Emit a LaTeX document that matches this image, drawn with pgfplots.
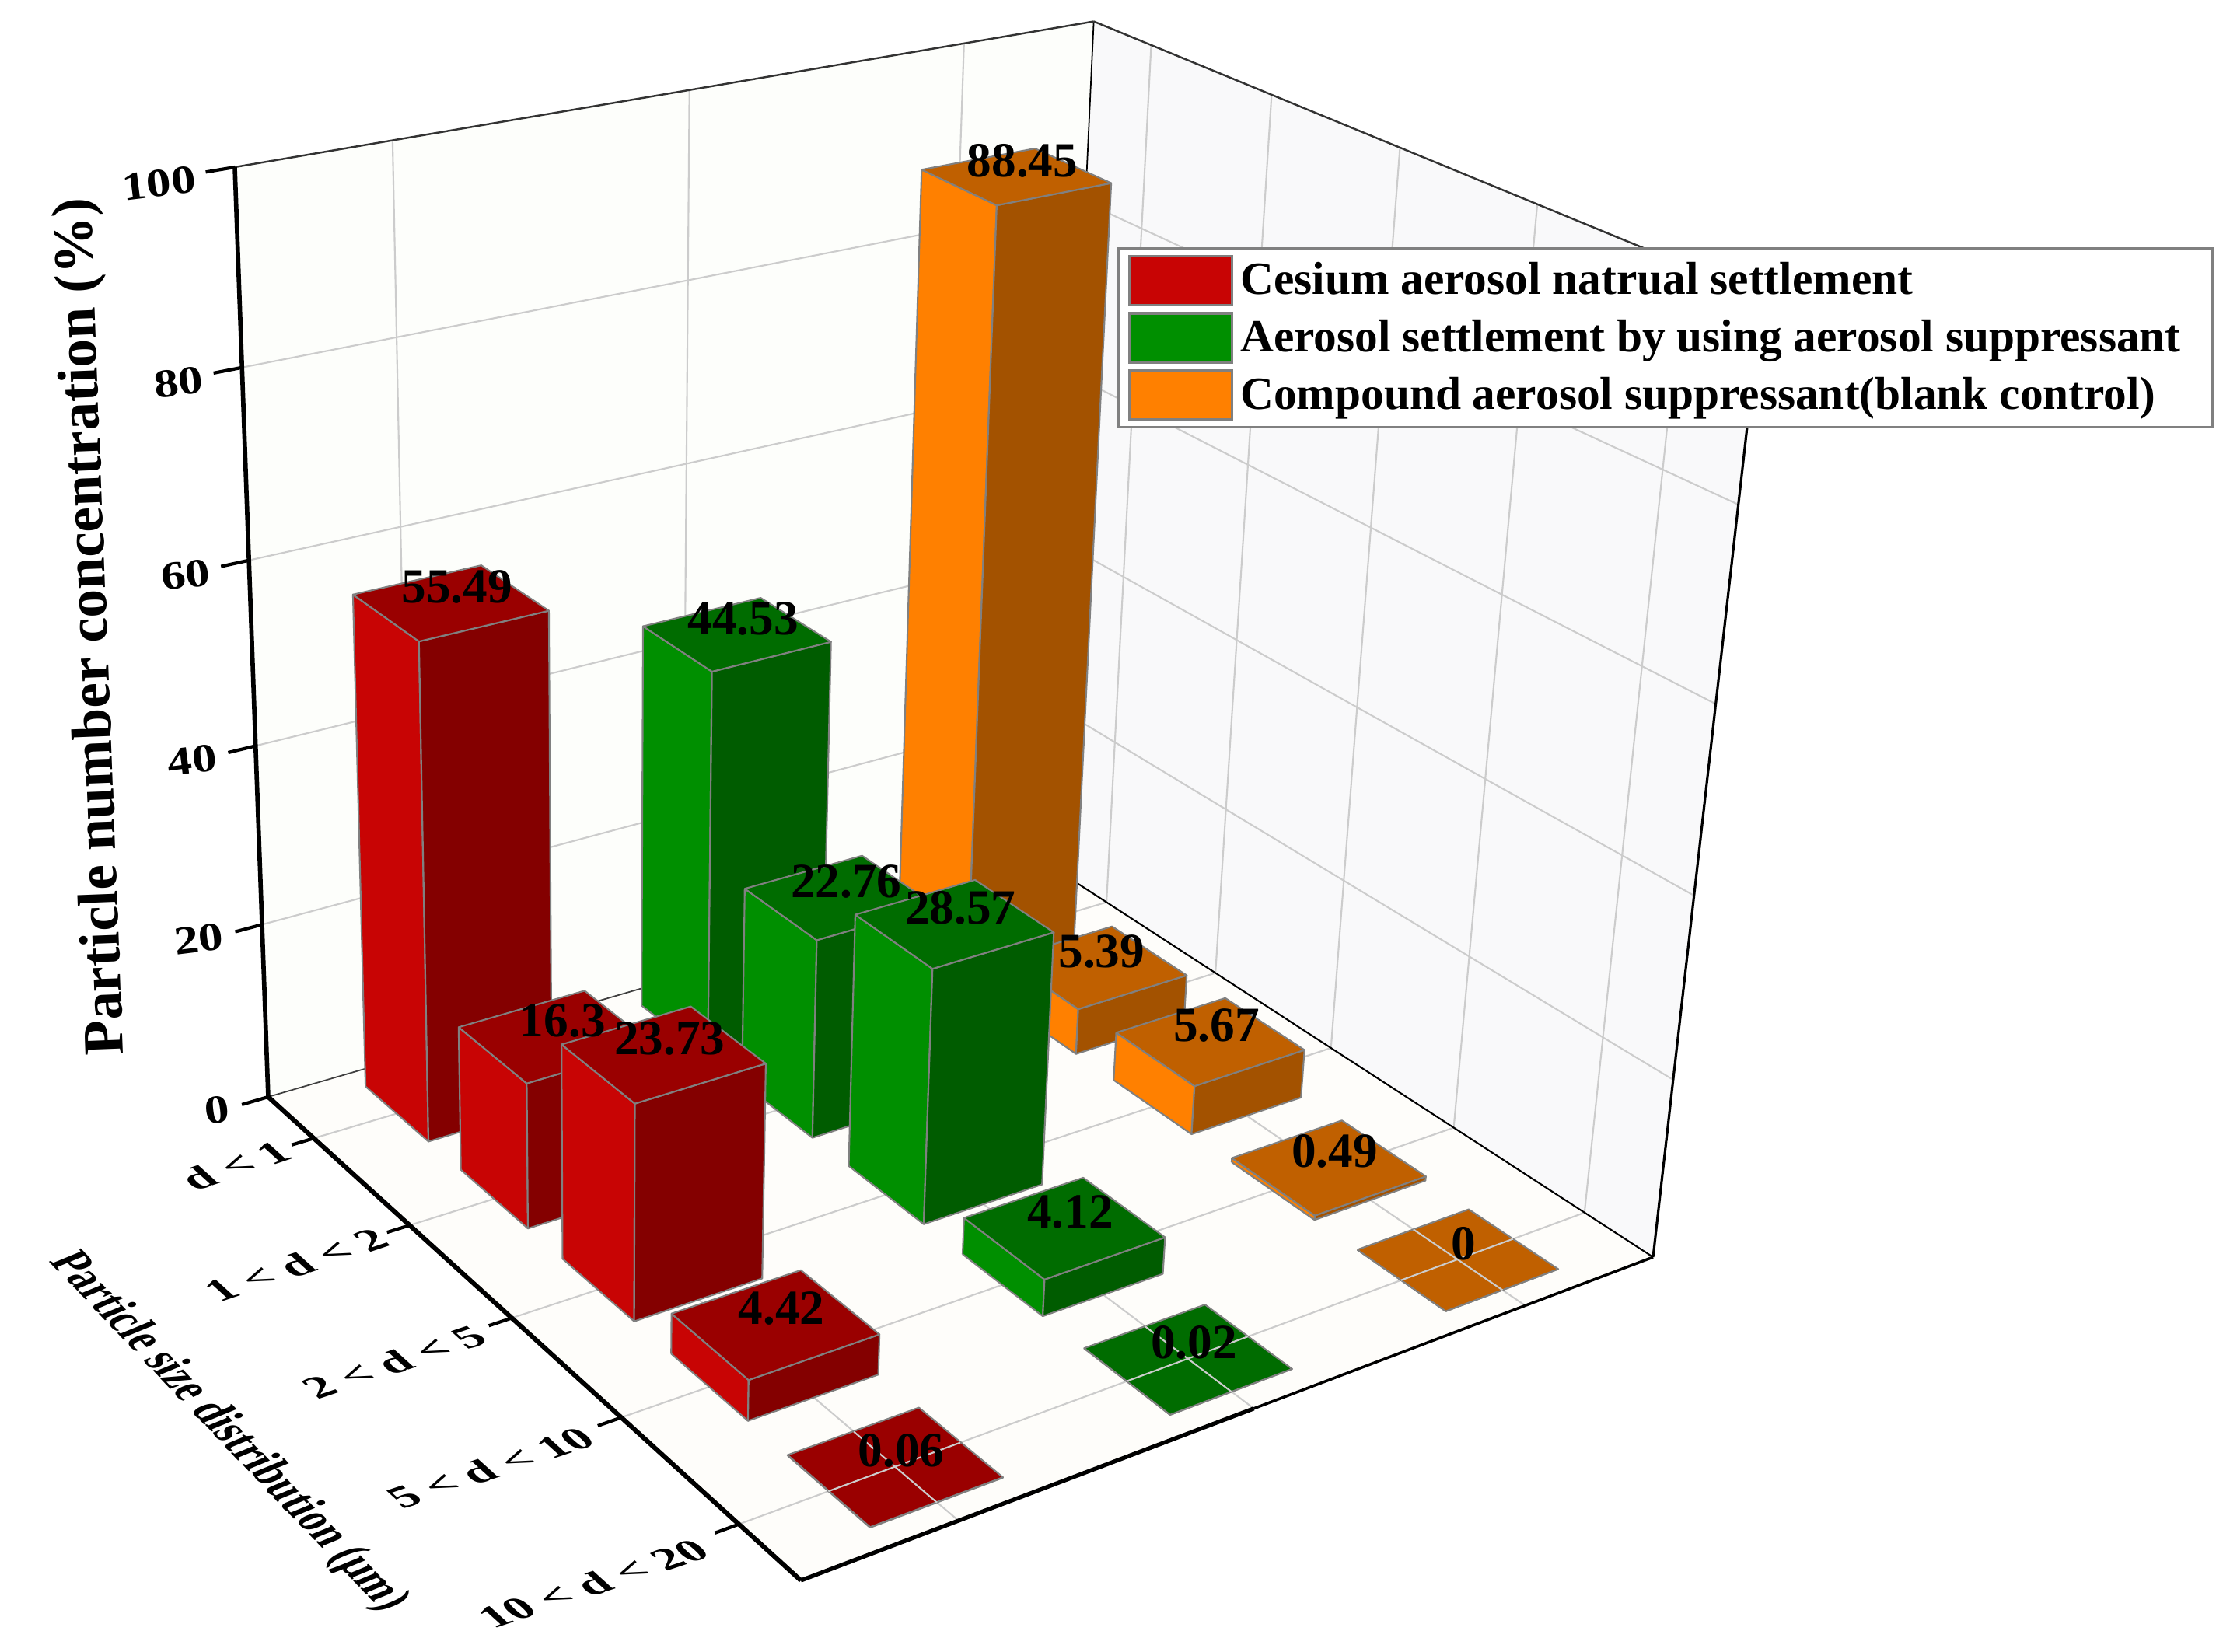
\documentclass[border=0pt]{standalone}
\usepackage{fontspec}
\setmainfont{Liberation Serif}
\usepackage{pgfplots}
\pgfplotsset{compat=1.18}
\definecolor{redF}{HTML}{C80404}\definecolor{redS}{HTML}{840000}\definecolor{redT}{HTML}{9A0000}
\definecolor{grnF}{HTML}{008F00}\definecolor{grnS}{HTML}{005C00}\definecolor{grnT}{HTML}{006C00}
\definecolor{orgF}{HTML}{FF8000}\definecolor{orgS}{HTML}{A35200}\definecolor{orgT}{HTML}{C06000}
\definecolor{edge}{HTML}{808080}\definecolor{gridc}{HTML}{CCCCCC}
\definecolor{floorc}{HTML}{FEFDFA}\definecolor{wallL}{HTML}{FDFEFB}\definecolor{wallR}{HTML}{F9F9FA}
\newcommand{\seg}[7]{\addplot[forget plot,no markers,#7] table[row sep=\\,x expr={PX(\thisrow{p},\thisrow{q},\thisrow{r})},y expr={PY(\thisrow{p},\thisrow{q},\thisrow{r})}]{p q r\\#1 #2 #3\\#4 #5 #6\\};}
\newcommand{\wall}[2]{\addplot[forget plot,no markers,draw=none,fill=#1] table[row sep=\\,x expr={PX(\thisrow{p},\thisrow{q},\thisrow{r})},y expr={PY(\thisrow{p},\thisrow{q},\thisrow{r})}]{p q r\\#2};}
% one bar: u centre, v centre, value (percent), colour family
\newcommand{\barface}[5]{\addplot[forget plot,no markers,fill=#4,draw=edge,line width=0.6pt,line join=round] table[row sep=\\,x expr={PX(#1+\thisrow{a}*0.0667,#2+\thisrow{b}*0.072,\thisrow{c}*#3/100)},y expr={PY(#1+\thisrow{a}*0.0667,#2+\thisrow{b}*0.072,\thisrow{c}*#3/100)}]{a b c\\#5};}
\newcommand{\prism}[4]{%
 \barface{#1}{#2}{#3}{#4F}{-1 -1 0\\1 -1 0\\1 -1 1\\-1 -1 1\\-1 -1 0\\}%
 \barface{#1}{#2}{#3}{#4S}{1 -1 0\\1 1 0\\1 1 1\\1 -1 1\\1 -1 0\\}%
 \barface{#1}{#2}{#3}{#4T}{-1 -1 1\\1 -1 1\\1 1 1\\-1 1 1\\-1 -1 1\\}}
\newcommand{\barlabel}[3]{\addplot[forget plot,only marks,mark=none,nodes near coords={#3},nodes near coords style={anchor=center,xshift=0.08cm,yshift=0.2cm,text=black,inner sep=0pt,font=\fontsize{18}{20}\selectfont\bfseries}] table[row sep=\\,x expr={PX(#1,#2,\thisrow{c}/100)},y expr={PY(#1,#2,\thisrow{c}/100)}]{c\\#3\\};}
\newcommand{\vbar}[4]{\prism{#1}{#2}{#3}{#4}\barlabel{#1}{#2}{#3}}
\newcommand{\flatbar}[4]{\prism{#1}{#2}{#3}{#4}%
 \seg{#1}{#2-0.072}{0}{#1}{#2+0.072}{0}{gridc,line width=0.6pt}%
 \seg{#1-0.0667}{#2}{0}{#1+0.0667}{#2}{0}{gridc,line width=0.6pt}%
 \barlabel{#1}{#2}{#3}}
\newcommand{\ztick}[1]{%
 \seg{0}{0}{#1/100}{0}{-0.03}{#1/100}{black,line width=1.2pt}%
 \addplot[forget plot,only marks,mark=none,nodes near coords={#1},nodes near coords style={anchor=east,rotate=7,xscale=1.06,yscale=0.86,xshift=-0.48cm,yshift=-0.1cm,text=black,inner sep=0pt,font=\fontsize{17}{19}\selectfont\bfseries}] table[row sep=\\,x expr={PX(0,0,\thisrow{c}/100)},y expr={PY(0,0,\thisrow{c}/100)}]{c\\#1\\};}
\tikzset{floortext/.style={anchor=center,inner sep=0pt,cm={1.07,0.358,-0.666,0.603,(0,0)},font=\fontsize{16}{18}\selectfont\bfseries}}
\begin{document}
\begin{tikzpicture}[declare function={
 PX(\p,\q,\r)=(345+523.16*\p+1164.59*\q-70.18*\r)/(1-0.15713*\p+0.11327*\q-0.09*\r);
 PY(\p,\q,\r)=(1411+302.56*\p-167.48*\q-1215.35*\r)/(1-0.15713*\p+0.11327*\q-0.09*\r);}]
\useasboundingbox (0,0) rectangle (28.59cm,21.25cm);
\begin{axis}[
 scale only axis,width=28.59cm,height=21.25cm,at={(0,0)},anchor=south west,
 xmin=0,xmax=2859,ymin=0,ymax=2125,y dir=reverse,hide axis,clip=false,
 legend style={at={(axis cs:1437,318)},anchor=north west,draw=edge,line width=1pt,fill=white,
   inner xsep=0.12cm,inner ysep=0.08cm,row sep=0.07cm,
   font=\fontsize{16.9}{18}\selectfont\bfseries,
   nodes={inner sep=0pt}},
 legend cell align=left,
 legend image code/.code={\draw[#1] (0cm,-0.315cm) rectangle (1.32cm,0.315cm);},
]
\addlegendimage{fill=redF,draw=edge,line width=1pt}\addlegendentry{\hspace*{0.09cm}Cesium aerosol natrual settlement}
\addlegendimage{fill=grnF,draw=edge,line width=1pt}\addlegendentry{\hspace*{0.09cm}Aerosol settlement by using aerosol suppressant\hspace*{0.29cm}}
\addlegendimage{fill=orgF,draw=edge,line width=1pt}\addlegendentry{\hspace*{0.09cm}Compound aerosol suppressant(blank control)}
% walls and floor
\wall{floorc}{0 0 0\\1 0 0\\1 1 0\\0 1 0\\0 0 0\\}
\wall{wallL}{0 0 0\\0 1 0\\0 1 1\\0 0 1\\0 0 0\\}
\wall{wallR}{0 1 0\\1 1 0\\1 1 1\\0 1 1\\0 1 0\\}
% grid
\seg{0}{0}{0.2}{0}{1}{0.2}{gridc,line width=0.6pt}\seg{0}{1}{0.2}{1}{1}{0.2}{gridc,line width=0.6pt}
\seg{0}{0}{0.4}{0}{1}{0.4}{gridc,line width=0.6pt}\seg{0}{1}{0.4}{1}{1}{0.4}{gridc,line width=0.6pt}
\seg{0}{0}{0.6}{0}{1}{0.6}{gridc,line width=0.6pt}\seg{0}{1}{0.6}{1}{1}{0.6}{gridc,line width=0.6pt}
\seg{0}{0}{0.8}{0}{1}{0.8}{gridc,line width=0.6pt}\seg{0}{1}{0.8}{1}{1}{0.8}{gridc,line width=0.6pt}
\seg{0}{0.1667}{0}{0}{0.1667}{1}{gridc,line width=0.6pt}\seg{0}{0.5}{0}{0}{0.5}{1}{gridc,line width=0.6pt}\seg{0}{0.8333}{0}{0}{0.8333}{1}{gridc,line width=0.6pt}
\seg{0.1}{1}{0}{0.1}{1}{1}{gridc,line width=0.6pt}\seg{0.3}{1}{0}{0.3}{1}{1}{gridc,line width=0.6pt}\seg{0.5}{1}{0}{0.5}{1}{1}{gridc,line width=0.6pt}\seg{0.7}{1}{0}{0.7}{1}{1}{gridc,line width=0.6pt}\seg{0.9}{1}{0}{0.9}{1}{1}{gridc,line width=0.6pt}
\seg{0.1}{0}{0}{0.1}{1}{0}{gridc,line width=0.6pt}\seg{0.3}{0}{0}{0.3}{1}{0}{gridc,line width=0.6pt}\seg{0.5}{0}{0}{0.5}{1}{0}{gridc,line width=0.6pt}\seg{0.7}{0}{0}{0.7}{1}{0}{gridc,line width=0.6pt}\seg{0.9}{0}{0}{0.9}{1}{0}{gridc,line width=0.6pt}
\seg{0}{0.1667}{0}{1}{0.1667}{0}{gridc,line width=0.6pt}\seg{0}{0.5}{0}{1}{0.5}{0}{gridc,line width=0.6pt}\seg{0}{0.8333}{0}{1}{0.8333}{0}{gridc,line width=0.6pt}
% frame
\seg{0}{0}{0}{0}{1}{0}{black!75,line width=0.5pt}
\seg{0}{1}{0}{1}{1}{0}{black,line width=0.6pt}
\seg{0}{1}{0}{0}{1}{1}{black,line width=0.5pt}
\seg{1}{1}{0}{1}{1}{1}{black,line width=0.9pt}
\seg{0}{0}{1}{0}{1}{1}{black!80,line width=0.7pt}
\seg{0}{1}{1}{1}{1}{1}{black!80,line width=0.7pt}
\seg{0}{0}{0}{0}{0}{1}{black,line width=1.6pt}
\seg{0}{0}{0}{1}{0}{0}{black,line width=1.7pt}
\seg{1}{0}{0}{1}{0.5}{0}{black,line width=1.5pt}
\seg{1}{0.5}{0}{1}{1}{0}{black,line width=1.0pt}
% ticks
\ztick{0}\ztick{20}\ztick{40}\ztick{60}\ztick{80}\ztick{100}
\seg{0.1}{0}{0}{0.1}{-0.025}{0}{black,line width=1.2pt}
\seg{0.3}{0}{0}{0.3}{-0.025}{0}{black,line width=1.2pt}
\seg{0.5}{0}{0}{0.5}{-0.025}{0}{black,line width=1.2pt}
\seg{0.7}{0}{0}{0.7}{-0.025}{0}{black,line width=1.2pt}
\seg{0.9}{0}{0}{0.9}{-0.025}{0}{black,line width=1.2pt}
% bars, back to front
\vbar{0.1}{0.8333}{88.45}{org}
\vbar{0.3}{0.8333}{5.39}{org}
\vbar{0.5}{0.8333}{5.67}{org}
\vbar{0.7}{0.8333}{0.49}{org}
\flatbar{0.9}{0.8333}{0}{org}
\vbar{0.1}{0.5}{44.53}{grn}
\vbar{0.3}{0.5}{22.76}{grn}
\vbar{0.5}{0.5}{28.57}{grn}
\vbar{0.7}{0.5}{4.12}{grn}
\flatbar{0.9}{0.5}{0.02}{grn}
\vbar{0.1}{0.1667}{55.49}{red}
\vbar{0.3}{0.1667}{16.3}{red}
\vbar{0.5}{0.1667}{23.73}{red}
\vbar{0.7}{0.1667}{4.42}{red}
\flatbar{0.9}{0.1667}{0.06}{red}
% text
\node[anchor=center,inner sep=0pt,rotate=92.2,font=\fontsize{20.9}{22}\selectfont\bfseries] at (axis cs:120,806) {Particle number concentration (\%)};
\node[floortext] at (axis cs:303,1499) {d < 1};
\node[floortext] at (axis cs:381,1627) {1 < d < 2};
\node[floortext] at (axis cs:507,1752) {2 < d < 5};
\node[floortext] at (axis cs:631,1888) {5 < d < 10};
\node[floortext] at (axis cs:763,2037) {10 < d < 20};
\node[anchor=center,inner sep=0pt,cm={0.60,-0.63,1.12,0.46,(0,0)},font=\fontsize{16}{18}\selectfont\bfseries] at (axis cs:293,1842) {Particle size distribution (μm)};
\end{axis}
\end{tikzpicture}
\end{document}
